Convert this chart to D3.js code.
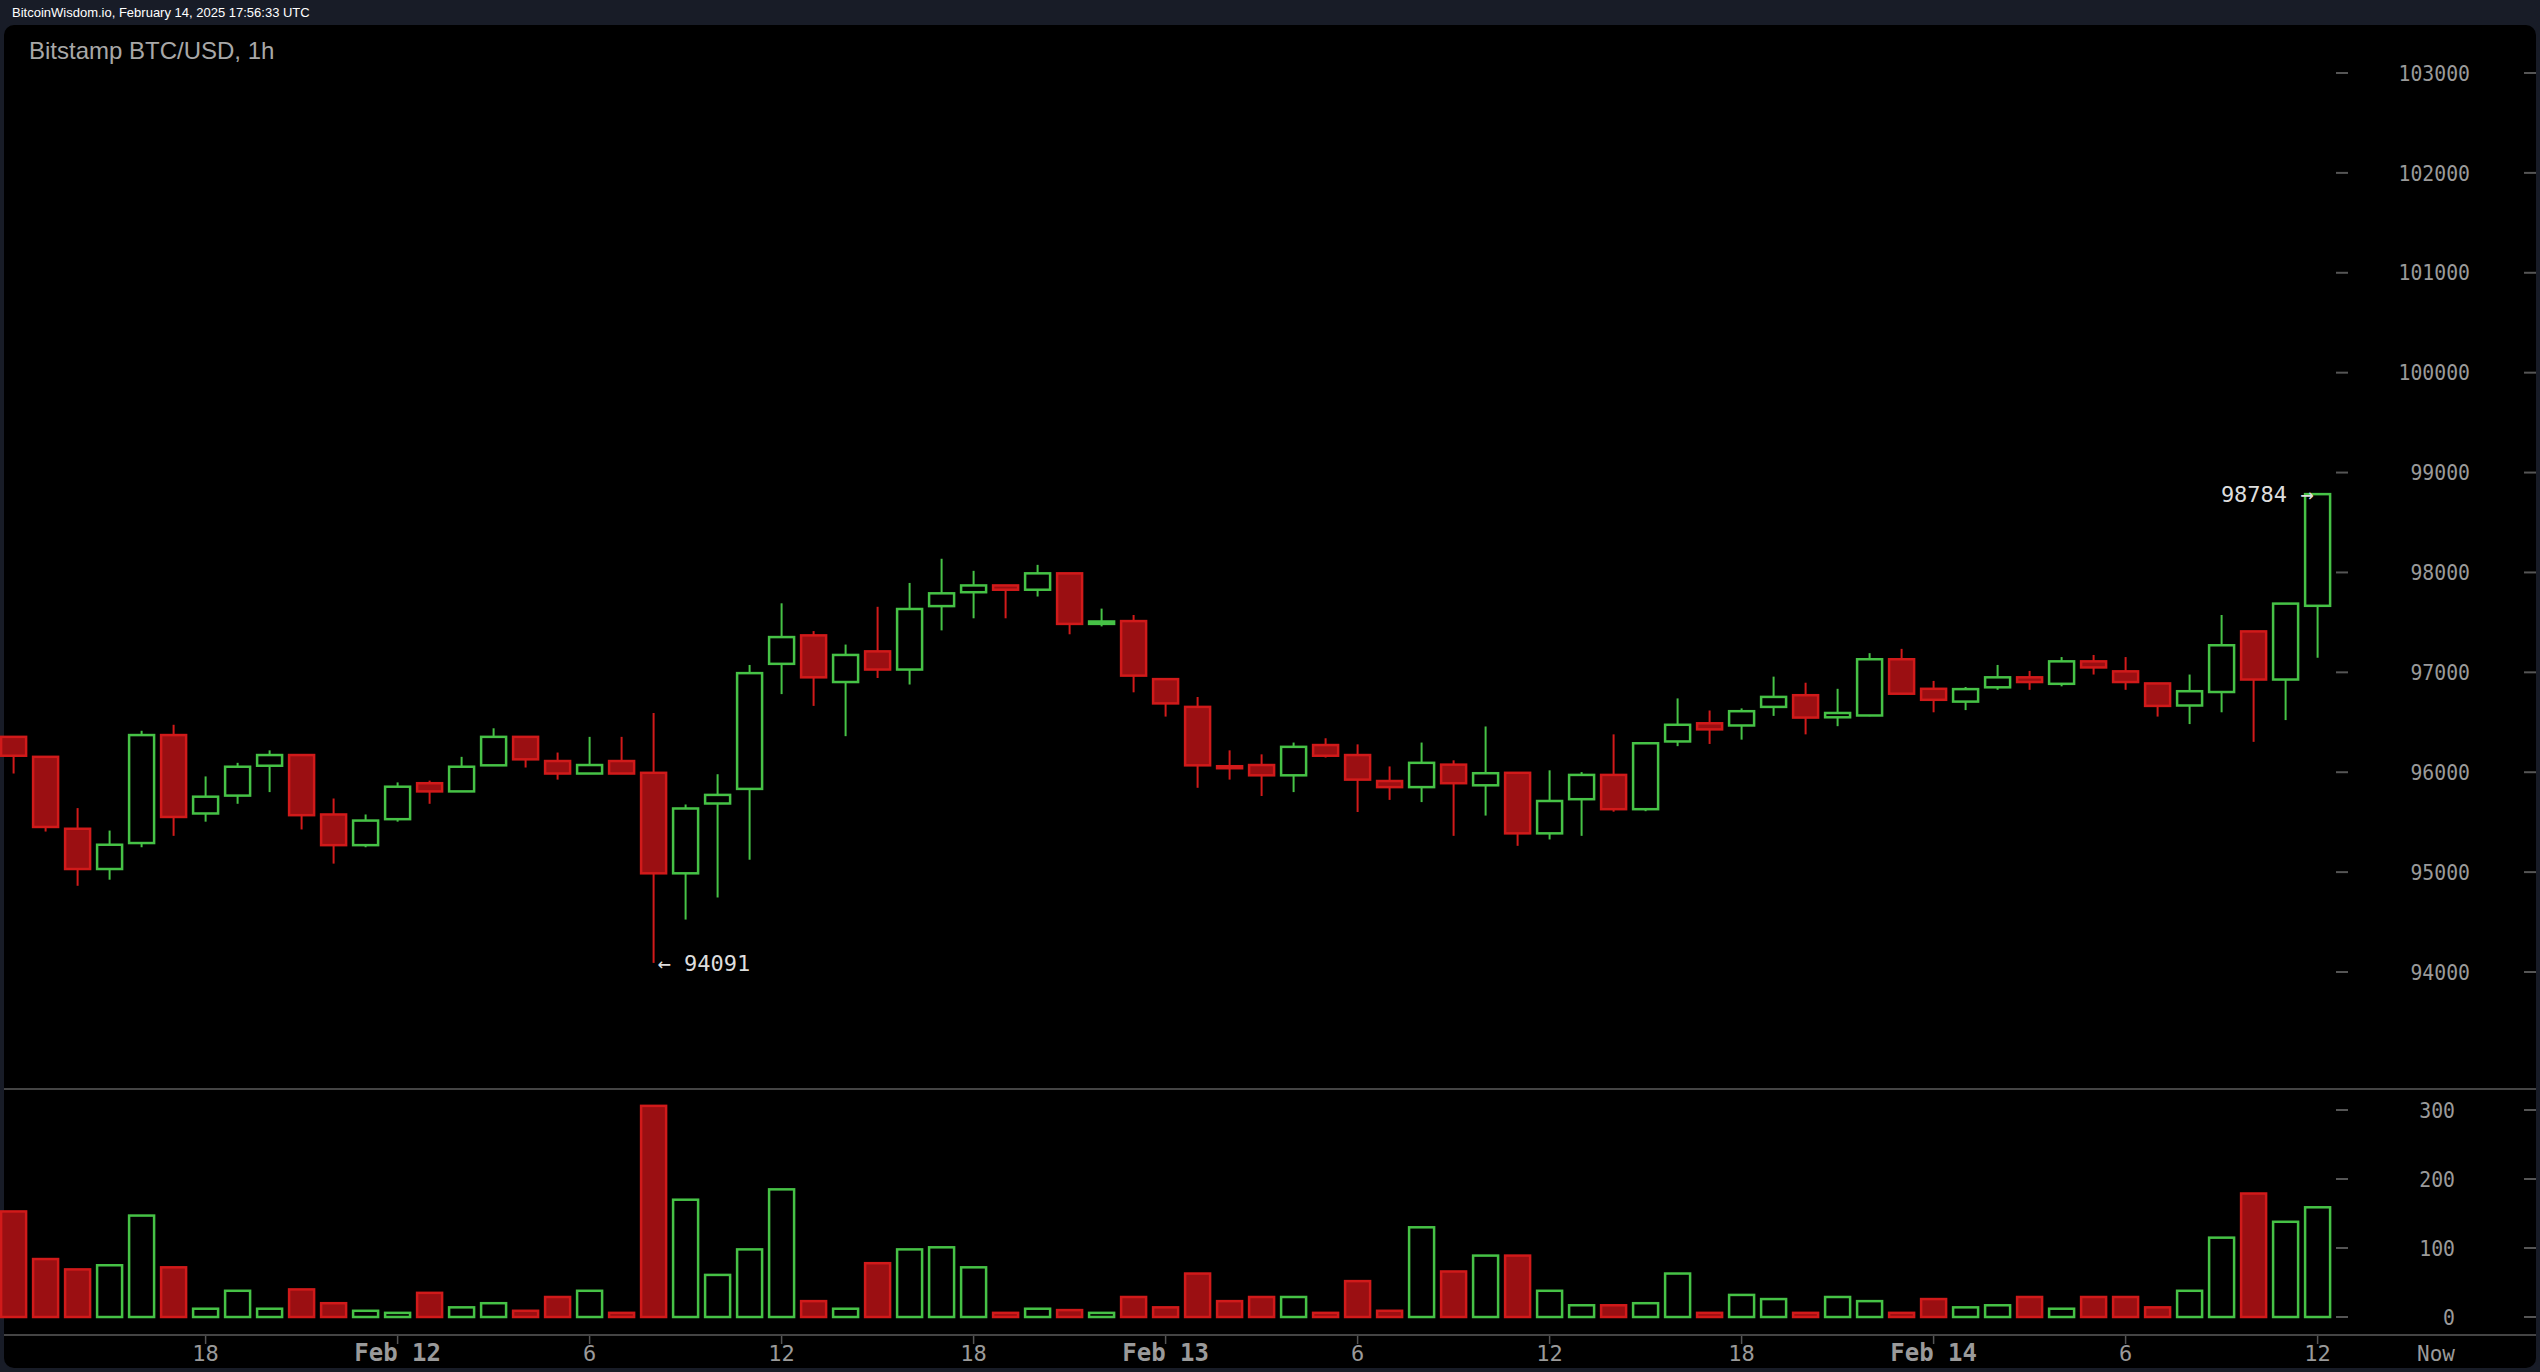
<!DOCTYPE html>
<html><head><meta charset="utf-8">
<script src="https://d3js.org/d3.v7.min.js"></script>
<style>html,body{margin:0;padding:0;background:#181c27;overflow:hidden}</style>
</head><body><svg id="c" width="2540" height="1372"></svg>
<script>
const open  = [96354,96154,95434,95031,95291,96372,95587,95766,96065,96172,95577,95270,95530,95890,95808,96069,96354,96112,95987,96112,95994,94988,95687,95833,97085,97370,96903,97210,97028,97663,97802,97870,97827,97991,97485,97513,96932,96654,96060,96072,95969,96272,96172,95912,95851,96076,95869,95994,95388,95730,95973,95630,96308,96490,96468,96654,96771,96550,96568,97131,96835,96707,96850,96950,96885,97110,97010,96889,96668,96803,97410,96928,97666];
const close = [96165,95452,95031,95274,96372,95552,95755,96055,96172,95570,95270,95516,95855,95808,96055,96354,96129,95987,96072,95987,94988,95637,95773,96992,97353,96950,97174,97028,97634,97791,97870,97827,97991,97485,97509,96967,96689,96069,96050,95969,96254,96165,95926,95851,96094,95890,95990,95388,95712,95973,95630,96290,96475,96429,96611,96754,96547,96593,97131,96786,96725,96832,96950,96903,97110,97049,96903,96664,96811,97271,96928,97688,98784];
const high  = [96360,96154,95641,95416,96415,96475,95958,96094,96219,96172,95737,95577,95898,95916,96154,96440,96354,96197,96354,96354,96593,95677,95980,97074,97691,97413,97278,97656,97895,98137,98016,97870,98076,97991,97638,97574,96932,96753,96219,96179,96297,96340,96279,96058,96297,96119,96458,95994,96019,96001,96379,96290,96739,96618,96639,96957,96896,96835,97192,97235,96914,96853,97074,97014,97153,97174,97153,96889,96978,97574,97410,97688,98784];
const low   = [95987,95406,94863,94924,95249,95363,95505,95684,95801,95427,95085,95249,95505,95684,95808,96069,96047,95926,95987,95987,94091,94525,94746,95124,96782,96664,96361,96943,96878,97420,97541,97541,97759,97381,97460,96800,96557,95844,95926,95762,95801,96147,95602,95723,95701,95363,95566,95263,95327,95363,95605,95610,96261,96283,96326,96564,96379,96461,96560,96786,96600,96622,96825,96825,96860,96978,96825,96557,96482,96600,96304,96522,97146];
const volume= [153,84,69,75,147,72,12,38,12,40,20,9,6,35,14,20,9,29,38,6,306,170,61,98,185,23,12,78,98,101,72,6,12,10,6,29,14,63,23,29,29,6,52,9,130,66,89,89,38,17,17,20,63,6,32,26,6,29,23,6,26,14,17,29,12,29,29,14,38,115,179,138,159];
const priceTicks = [94000,95000,96000,97000,98000,99000,100000,101000,102000,103000];
const volTicks = [0,100,200,300];
const timeTicks = [[6,"18"],[12,"Feb 12"],[18,"6"],[24,"12"],[30,"18"],[36,"Feb 13"],[42,"6"],[48,"12"],[54,"18"],[60,"Feb 14"],[66,"6"],[72,"12"]];

const svg = d3.select("#c");
const RED_FILL="#9b0f12", RED="#d11a1a", GREEN="#46c246";
const x = d3.scaleLinear().domain([0,72]).range([13.6,2317.6]);
const y = d3.scaleLinear().domain([94000,103000]).range([972,73]);
const yv = d3.scaleLinear().domain([0,300]).range([1317,1110]);
const bw = 25;

// header
svg.append("text").attr("x",12).attr("y",17).attr("fill","#fff").attr("font-family","Liberation Sans, Arial").attr("font-size",13).text("BitcoinWisdom.io, February 14, 2025 17:56:33 UTC");
svg.append("rect").attr("x",4).attr("y",25).attr("width",2532).attr("height",1343).attr("rx",10).attr("fill","#000");
svg.append("text").attr("x",29).attr("y",59).attr("fill","#a8a8a8").attr("font-family","Liberation Sans, Arial").attr("font-size",24).text("Bitstamp BTC/USD, 1h");

// separators
svg.append("line").attr("x1",4).attr("x2",2536).attr("y1",1089).attr("y2",1089).attr("stroke","#444").attr("stroke-width",2);
svg.append("line").attr("x1",4).attr("x2",2536).attr("y1",1335).attr("y2",1335).attr("stroke","#444").attr("stroke-width",2);

const mono = "DejaVu Sans Mono, monospace";
// price axis
const pa = svg.append("g");
priceTicks.forEach(t=>{
  pa.append("line").attr("x1",2336).attr("x2",2348).attr("y1",y(t)).attr("y2",y(t)).attr("stroke","#555").attr("stroke-width",2);
  pa.append("line").attr("x1",2524).attr("x2",2536).attr("y1",y(t)).attr("y2",y(t)).attr("stroke","#555").attr("stroke-width",2);
  pa.append("text").attr("x",2470).attr("y",y(t)).attr("dy","0.35em").attr("text-anchor","end").attr("fill","#9a9a9a").attr("font-family",mono).attr("font-size",22).attr("transform",`translate(2470,0) scale(0.9,1) translate(-2470,0)`).text(t);
});
volTicks.forEach(t=>{
  pa.append("line").attr("x1",2336).attr("x2",2348).attr("y1",yv(t)).attr("y2",yv(t)).attr("stroke","#555").attr("stroke-width",2);
  pa.append("line").attr("x1",2524).attr("x2",2536).attr("y1",yv(t)).attr("y2",yv(t)).attr("stroke","#555").attr("stroke-width",2);
  pa.append("text").attr("x",2455).attr("y",yv(t)).attr("dy","0.35em").attr("text-anchor","end").attr("fill","#9a9a9a").attr("font-family",mono).attr("font-size",22).attr("transform",`translate(2455,0) scale(0.9,1) translate(-2455,0)`).text(t);
});
// time axis
timeTicks.forEach(([k,l])=>{
  const xx = x(k);
  svg.append("line").attr("x1",xx).attr("x2",xx).attr("y1",1336).attr("y2",1344).attr("stroke","#555").attr("stroke-width",1.5);
  svg.append("text").attr("x",xx).attr("y",1361).attr("text-anchor","middle").attr("fill","#9a9a9a")
    .attr("font-family",mono).attr("font-size",l.startsWith("Feb")?24:22).attr("font-weight",l.startsWith("Feb")?"bold":"normal").text(l);
});
svg.append("text").attr("x",x(75.7)).attr("y",1361).attr("text-anchor","middle").attr("fill","#9a9a9a").attr("font-family",mono).attr("font-size",21).text("Now");

const data = open.map((o,i)=>({i,o,c:close[i],h:high[i],l:low[i],v:volume[i],up:close[i]>=o}));
// candles
const g = svg.append("g");
g.selectAll(".w").data(data).join("line").attr("x1",d=>x(d.i)).attr("x2",d=>x(d.i))
  .attr("y1",d=>y(d.h)).attr("y2",d=>y(d.l)).attr("stroke",d=>d.up?GREEN:RED).attr("stroke-width",2);
g.selectAll(".b").data(data).join("rect").attr("x",d=>x(d.i)-bw/2).attr("width",bw)
  .attr("y",d=>y(Math.max(d.o,d.c))).attr("height",d=>Math.max(2,Math.abs(y(d.o)-y(d.c))))
  .attr("fill",d=>d.up?"#000":RED_FILL).attr("stroke",d=>d.up?GREEN:RED).attr("stroke-width",2.5);
// volume
g.selectAll(".v").data(data).join("rect").attr("x",d=>x(d.i)-bw/2).attr("width",bw)
  .attr("y",d=>yv(d.v)).attr("height",d=>yv(0)-yv(d.v))
  .attr("fill",d=>d.up?"#000":RED_FILL).attr("stroke",d=>d.up?GREEN:RED).attr("stroke-width",2.5);

// annotations
svg.append("text").attr("x",x(20)+4).attr("y",y(94091)).attr("dy","0.35em").attr("fill","#ddd").attr("font-family",mono).attr("font-size",22).text("← 94091");
svg.append("text").attr("x",x(72)-4).attr("y",y(98784)).attr("dy","0.35em").attr("text-anchor","end").attr("fill","#ddd").attr("font-family",mono).attr("font-size",22).text("98784 →");
</script></body></html>
